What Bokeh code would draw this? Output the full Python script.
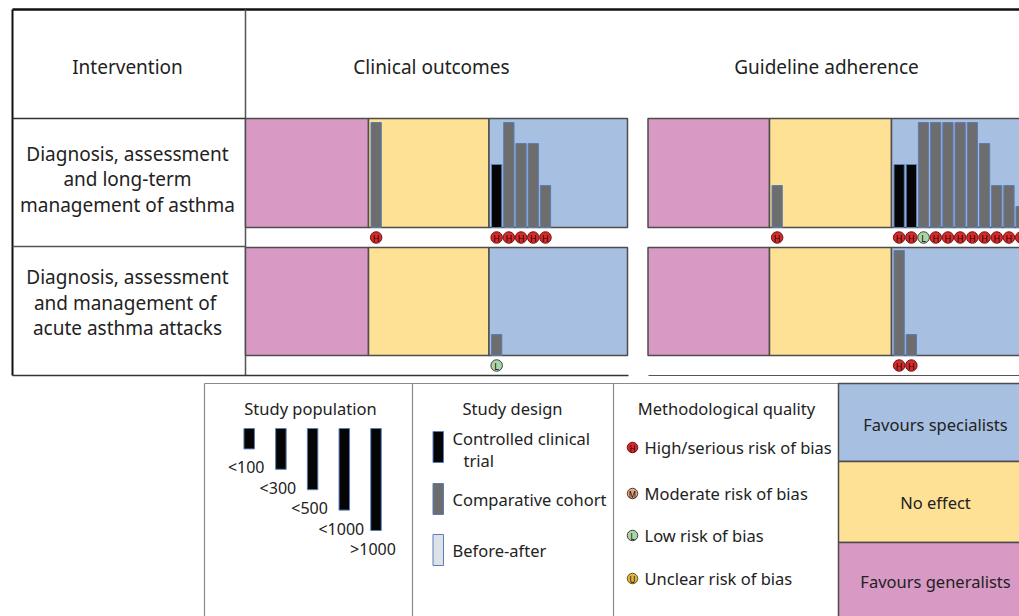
from bokeh.plotting import figure
from bokeh.models import Range1d
from bokeh.core.properties import value
from bokeh.embed import file_html
from bokeh.resources import INLINE

# ---------------- data ----------------
intervention_header = "Intervention"
outcomes = ["Clinical outcomes", "Guideline adherence"]
interventions = [["Diagnosis, assessment", "and long-term", "management of asthma"],
                 ["Diagnosis, assessment", "and management  of", "acute asthma attacks"]]
effects = ["Favours generalists", "No effect", "Favours specialists"]
effect_colors = ["#d899c4", "#fee194", "#a7bfe0"]

# one entry per study
study_row = [0, 0, 0, 0, 0, 0,
             0, 0, 0, 0, 0, 0, 0, 0, 0, 0, 0, 0,
             1,
             1, 1]
study_outcome = [0, 0, 0, 0, 0, 0,
                 1, 1, 1, 1, 1, 1, 1, 1, 1, 1, 1, 1,
                 0,
                 1, 1]
study_effect = ["No effect", "Favours specialists", "Favours specialists", "Favours specialists",
                "Favours specialists", "Favours specialists",
                "No effect", "Favours specialists", "Favours specialists", "Favours specialists",
                "Favours specialists", "Favours specialists", "Favours specialists", "Favours specialists",
                "Favours specialists", "Favours specialists", "Favours specialists", "Favours specialists",
                "Favours specialists",
                "Favours specialists", "Favours specialists"]
study_size = [5, 3, 5, 4, 4, 2,
              2, 3, 3, 5, 5, 5, 5, 5, 4, 2, 2, 1,
              1,
              5, 1]
study_design = ["cohort", "cct", "cohort", "cohort", "cohort", "cohort",
                "cohort", "cct", "cct", "cohort", "cohort", "cohort", "cohort", "cohort",
                "cohort", "cohort", "cohort", "cohort",
                "cohort",
                "cohort", "cohort"]
study_risk = ["H", "H", "H", "H", "H", "H",
              "H", "H", "H", "L", "H", "H", "H", "H", "H", "H", "H", "H",
              "L",
              "H", "H"]

size_levels = [1, 2, 3, 4, 5]
size_labels = ["<100", "<300", "<500", "<1000", ">1000"]
design_keys = ["cct", "cohort", "ba"]
design_labels = [["Controlled clinical", "trial"], ["Comparative cohort"], ["Before-after"]]
design_colors = {"cct": "#050505", "cohort": "#6d6d6d", "ba": "#dde2e8"}
risk_keys = ["H", "M", "L", "U"]
risk_labels = ["High/serious risk of bias", "Moderate risk of bias", "Low risk of bias", "Unclear risk of bias"]
risk_fill = {"H": "#d62b2b", "M": "#d8ab88", "L": "#a9d6a9", "U": "#d9b545"}
risk_line = {"H": "#6b1010", "M": "#5a3a22", "L": "#3d3d3d", "U": "#6b5310"}
legend_titles = ["Study population", "Study design", "Methodological quality"]

# ---------------- layout ----------------
W, H = 1019, 616
FONT = value("Noto Sans")
TXT = "#222222"
BIG = "19px"
SMALL = "16.5px"

p = figure(width=W, height=H, output_backend="svg", toolbar_location=None,
           x_range=Range1d(0, W), y_range=Range1d(H, 0),
           min_border=0, outline_line_color=None)
p.axis.visible = False
p.grid.visible = False
p.background_fill_color = "white"

PXL = 21.0  # pixels per size level
row_tops = [118, 247]
row_bottoms = [227, 355]
zone_edges = [[245, 368, 488.5, 627], [647.5, 769, 891, W + 4]]

for r, b in enumerate(row_bottoms):
    p.extra_y_ranges["row%d" % r] = Range1d(start=(b - H) / PXL, end=b / PXL)

# table lines
p.line([12, W], [9, 9], line_color="#111111", line_width=2.5)
p.line([12, 12], [9, 375], line_color="#111111", line_width=2)
p.line([245, 245], [9, 375], line_color="#555555", line_width=1.5)
p.line([12, 245], [118, 118], line_color="#333333", line_width=1.5)
p.line([12, 245], [246, 246], line_color="#555555", line_width=1.5)
p.line([12, 628], [375, 375], line_color="#333333", line_width=1.5)
p.line([648, W], [375, 375], line_color="#555555", line_width=1.2)

# headers
p.text([127], [66], text=[intervention_header], text_align="center", text_baseline="middle",
       text_font=FONT, text_font_size=BIG, text_color=TXT)
p.text([431, 826], [66, 66], text=outcomes, text_align="center", text_baseline="middle",
       text_font=FONT, text_font_size=BIG, text_color=TXT)
for r, lines in enumerate(interventions):
    cy = (row_tops[r] + row_bottoms[r]) / 2 + (6 if r == 0 else 1)
    ys = [cy - 25.5, cy, cy + 25.5]
    p.text([127] * 3, ys, text=lines, text_align="center", text_baseline="middle",
           text_font=FONT, text_font_size=BIG, text_color=TXT)

# panels (effect zones)
ql, qr, qt, qb, qc = [], [], [], [], []
for r in range(2):
    for o in range(2):
        e = zone_edges[o]
        for k in range(3):
            ql.append(e[k]); qr.append(e[k + 1]); qt.append(row_tops[r]); qb.append(row_bottoms[r])
            qc.append(effect_colors[k])
p.quad(left=ql, right=qr, top=qt, bottom=qb, fill_color=qc, line_color="#4d4d4d", line_width=1.5)

# bars + risk circles
BW, STEP, PAD = 10.3, 12.2, 2.5
counters = {}
bx = {0: [], 1: []}
btop = {0: [], 1: []}
bcol = {0: [], 1: []}
cx, cy, cf, cl, ct = [], [], [], [], []
for i in range(len(study_row)):
    r, o, eff = study_row[i], study_outcome[i], study_effect[i]
    key = (r, o, eff)
    n = counters.get(key, 0)
    counters[key] = n + 1
    left = zone_edges[o][effects.index(eff)]
    x = left + PAD + BW / 2 + n * STEP
    bx[r].append(x)
    btop[r].append(study_size[i])
    bcol[r].append(design_colors[study_design[i]])
    cx.append(x); cy.append(row_bottoms[r] + 10)
    cf.append(risk_fill[study_risk[i]]); cl.append(risk_line[study_risk[i]]); ct.append(study_risk[i])

for r in range(2):
    p.vbar(x=bx[r], width=BW, top=btop[r], bottom=0, fill_color=bcol[r],
           line_color="#5a7db5", line_width=1, y_range_name="row%d" % r)

p.scatter(cx, cy, size=11.5, fill_color=cf, line_color=cl, line_width=1)
p.text(cx, [y + 0.5 for y in cy], text=ct, text_align="center", text_baseline="middle",
       text_font=FONT, text_font_size="9px", text_color="#2a0000")

# ---------------- legend ----------------
LG = "#8a8a8a"
p.line([204, 838], [383, 383], line_color=LG, line_width=1.2)
for x in [204, 412, 613]:
    p.line([x, x], [383, H + 2], line_color=LG, line_width=1.2)

p.text([310, 512, 726], [408, 408, 408], text=legend_titles, text_align="center",
       text_baseline="middle", text_font=FONT, text_font_size=SMALL, text_color=TXT)

# study population bars (hanging downward from y=428)
LPX = 20.4
LTOP = 428
p.extra_y_ranges["leg"] = Range1d(start=(H - LTOP) / LPX, end=(0 - LTOP) / LPX)
lx = [248.7 + k * 31.7 for k in range(len(size_levels))]
p.vbar(x=lx, width=10.5, top=0, bottom=size_levels, fill_color="#050505",
       line_color="#5a7db5", line_width=1, y_range_name="leg")
p.text([x - 3 for x in lx], [LTOP + LPX * s + 18.5 for s in size_levels], text=size_labels,
       text_align="center", text_baseline="middle", text_font=FONT, text_font_size="16px",
       text_color=TXT)

# study design swatches
sw_top = [431, 483, 534]
p.quad(left=[432.5] * 3, right=[443] * 3, top=sw_top, bottom=[t + 31 for t in sw_top],
       fill_color=[design_colors[k] for k in design_keys], line_color="#5a7db5", line_width=1)
dl_x, dl_y, dl_t = [], [], []
for k, lines in enumerate(design_labels):
    for j, t in enumerate(lines):
        dl_x.append(452 + (11 if j > 0 else 0))
        dl_y.append(sw_top[k] + 7 + j * 22 if len(lines) > 1 else sw_top[k] + 16)
        dl_t.append(t)
p.text(dl_x, dl_y, text=dl_t, text_align="left", text_baseline="middle", text_font=FONT,
       text_font_size=SMALL, text_color=TXT)

# risk of bias legend
ry = [447, 493, 535, 578]
p.scatter([632] * 4, ry, size=10.5, fill_color=[risk_fill[k] for k in risk_keys],
          line_color=[risk_line[k] for k in risk_keys], line_width=1)
p.text([632] * 4, [y + 0.5 for y in ry], text=risk_keys, text_align="center", text_baseline="middle",
       text_font=FONT, text_font_size="8px", text_color="#2a0000")
p.text([644] * 4, ry, text=risk_labels, text_align="left", text_baseline="middle", text_font=FONT,
       text_font_size=SMALL, text_color=TXT)

# effect colour legend
eb = [383, 461, 542, H + 2]
order = [2, 1, 0]
p.quad(left=[838] * 3, right=[W + 4] * 3, top=eb[:3], bottom=eb[1:],
       fill_color=[effect_colors[k] for k in order], line_color="#4d4d4d", line_width=1.5)
p.text([935] * 3, [424, 502, 581], text=[effects[k] for k in order], text_align="center",
       text_baseline="middle", text_font=FONT, text_font_size=SMALL, text_color=TXT)

open("out.html", "w").write(file_html(p, INLINE))
